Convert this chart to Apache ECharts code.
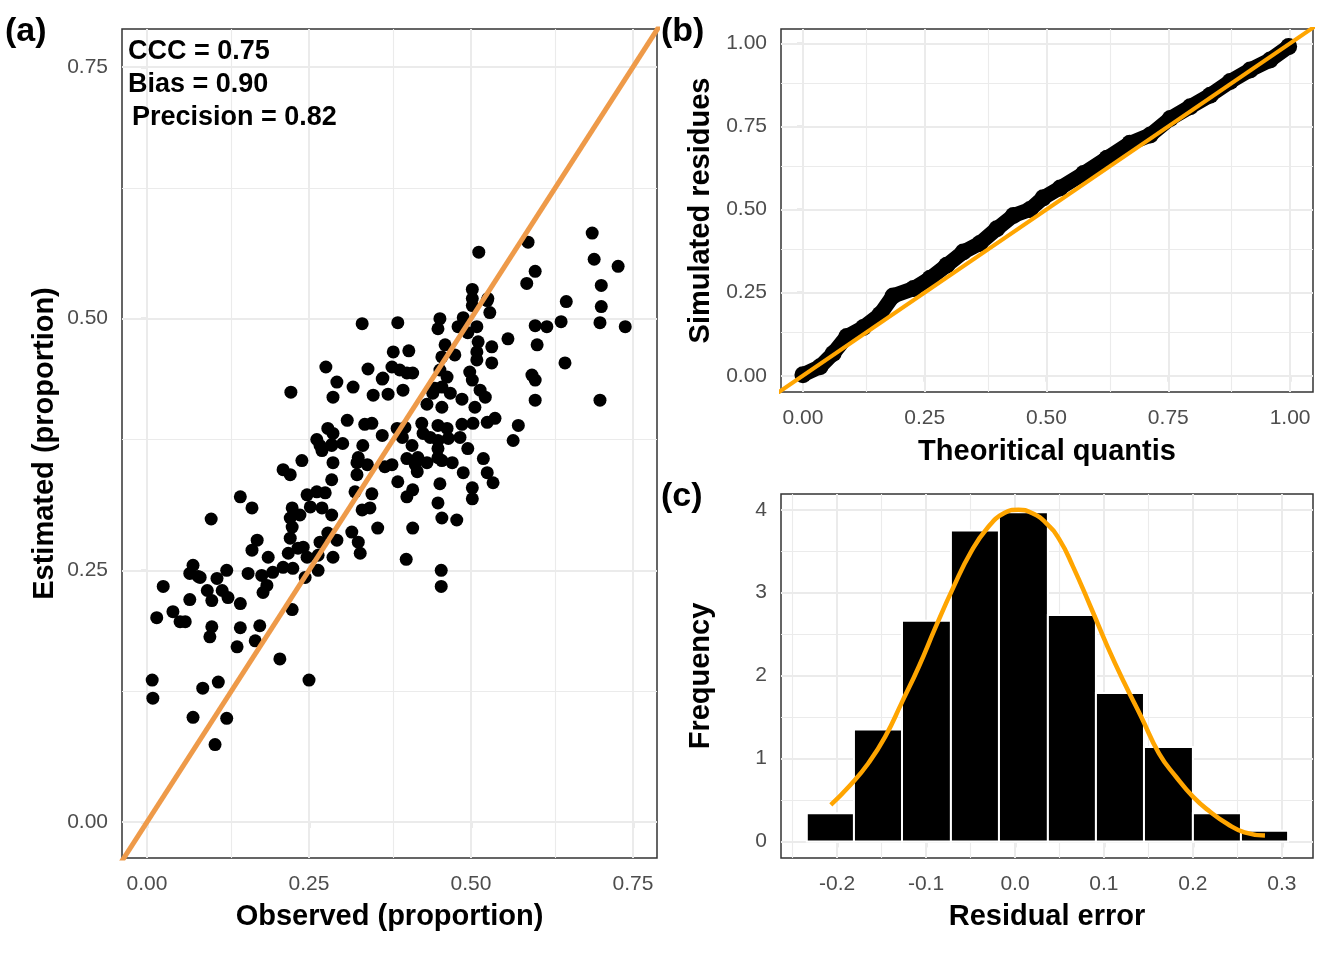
<!DOCTYPE html>
<html>
<head>
<meta charset="utf-8">
<script src="https://cdn.jsdelivr.net/npm/echarts@6/dist/echarts.min.js"></script>
<style>
  html, body { margin: 0; padding: 0; background: #fff; }
  #main { width: 1344px; height: 960px; }
</style>
</head>
<body>
<div id="main"></div>
<script>
// (a) observed vs estimated proportions
var observed = [
  0.267, 0.285, 0.270, 0.239, 0.287, 0.210, 0.221, 0.285, 0.144, 0.247,
  0.262, 0.275, 0.162, 0.224, 0.252, 0.270, 0.285, 0.236, 0.221, 0.099,
  0.224, 0.221, 0.170, 0.162, 0.267, 0.293, 0.233, 0.241, 0.218, 0.187,
  0.247, 0.287, 0.264, 0.071, 0.066, 0.079, 0.123, 0.156, 0.177, 0.194,
  0.210, 0.225, 0.264, 0.244, 0.025, 0.108, 0.093, 0.116, 0.185, 0.179,
  0.066, 0.100, 0.125, 0.144, 0.040, 0.015, 0.051, 0.059, 0.224, 0.100,
  0.144, 0.174, 0.097, 0.167, 0.139, 0.205, 0.008, 0.009, 0.086, 0.110,
  0.250, 0.071, 0.123, 0.105, 0.332, 0.387, 0.380, 0.404, 0.276, 0.341,
  0.378, 0.390, 0.410, 0.363, 0.293, 0.318, 0.222, 0.287, 0.349, 0.372,
  0.395, 0.309, 0.336, 0.347, 0.279, 0.287, 0.262, 0.285, 0.302, 0.333,
  0.363, 0.386, 0.398, 0.394, 0.409, 0.326, 0.324, 0.340, 0.367, 0.378,
  0.401, 0.414, 0.324, 0.387, 0.321, 0.347, 0.332, 0.344, 0.410, 0.401,
  0.356, 0.316, 0.279, 0.326, 0.329, 0.410, 0.400, 0.082, 0.452, 0.449,
  0.488, 0.483, 0.502, 0.525, 0.529, 0.509, 0.495, 0.511, 0.557, 0.532,
  0.599, 0.602, 0.460, 0.475, 0.455, 0.509, 0.509, 0.532, 0.401, 0.364,
  0.452, 0.463, 0.498, 0.502, 0.594, 0.599, 0.444, 0.455, 0.468, 0.441,
  0.514, 0.522, 0.486, 0.599, 0.432, 0.455, 0.506, 0.503, 0.525, 0.537,
  0.424, 0.449, 0.463, 0.486, 0.573, 0.565, 0.426, 0.437, 0.449, 0.465,
  0.483, 0.449, 0.495, 0.418, 0.432, 0.449, 0.455, 0.471, 0.519, 0.417,
  0.488, 0.525, 0.534, 0.452, 0.502, 0.502, 0.449, 0.455, 0.478, 0.454,
  0.454, 0.687, 0.588, 0.512, 0.690, 0.727, 0.599, 0.586, 0.701, 0.502,
  0.502, 0.526, 0.647, 0.701, 0.617, 0.639, 0.699, 0.738, 0.480, 0.645,
  0.699
];
var estimated = [
  0.374, 0.374, 0.369, 0.359, 0.357, 0.350, 0.345, 0.340, 0.323, 0.325,
  0.328, 0.327, 0.312, 0.312, 0.313, 0.312, 0.305, 0.305, 0.302, 0.301,
  0.293, 0.282, 0.280, 0.270, 0.278, 0.280, 0.272, 0.273, 0.267, 0.263,
  0.263, 0.263, 0.265, 0.255, 0.247, 0.244, 0.250, 0.247, 0.245, 0.248,
  0.253, 0.252, 0.250, 0.243, 0.234, 0.242, 0.230, 0.230, 0.235, 0.228,
  0.221, 0.220, 0.223, 0.217, 0.209, 0.203, 0.199, 0.199, 0.211, 0.194,
  0.193, 0.195, 0.184, 0.180, 0.174, 0.162, 0.141, 0.123, 0.133, 0.139,
  0.141, 0.104, 0.103, 0.077, 0.495, 0.496, 0.467, 0.468, 0.452, 0.450,
  0.452, 0.449, 0.446, 0.440, 0.437, 0.432, 0.427, 0.422, 0.424, 0.425,
  0.429, 0.399, 0.395, 0.396, 0.391, 0.386, 0.380, 0.375, 0.376, 0.374,
  0.384, 0.391, 0.392, 0.382, 0.374, 0.362, 0.357, 0.355, 0.353, 0.355,
  0.361, 0.355, 0.345, 0.338, 0.328, 0.326, 0.310, 0.312, 0.330, 0.323,
  0.292, 0.288, 0.287, 0.278, 0.267, 0.292, 0.261, 0.243, 0.500, 0.490,
  0.501, 0.492, 0.513, 0.518, 0.506, 0.492, 0.486, 0.477, 0.480, 0.472,
  0.493, 0.474, 0.474, 0.464, 0.462, 0.467, 0.459, 0.456, 0.446, 0.441,
  0.449, 0.442, 0.447, 0.439, 0.444, 0.439, 0.431, 0.432, 0.426, 0.426,
  0.429, 0.422, 0.420, 0.419, 0.415, 0.412, 0.412, 0.396, 0.397, 0.401,
  0.396, 0.394, 0.391, 0.395, 0.394, 0.379, 0.386, 0.382, 0.379, 0.381,
  0.382, 0.371, 0.371, 0.362, 0.357, 0.362, 0.359, 0.357, 0.361, 0.348,
  0.347, 0.347, 0.337, 0.336, 0.332, 0.321, 0.317, 0.302, 0.300, 0.250,
  0.234, 0.585, 0.576, 0.566, 0.559, 0.552, 0.547, 0.535, 0.533, 0.529,
  0.520, 0.520, 0.517, 0.512, 0.492, 0.497, 0.496, 0.492, 0.492, 0.456,
  0.419
];
var identityLine = [-0.1, 1.2];   // y = x reference

// (b) QQ plot of simulated residuals
var theoQuantile = [
  0.000, 0.035, 0.062, 0.090, 0.124, 0.158, 0.185, 0.227, 0.261, 0.295,
  0.329, 0.363, 0.398, 0.432, 0.466, 0.493, 0.528, 0.576, 0.624, 0.671,
  0.713, 0.754, 0.795, 0.836, 0.877, 0.918, 0.959, 0.997
];
var simResidue = [
  0.003, 0.027, 0.067, 0.118, 0.145, 0.184, 0.240, 0.262, 0.293, 0.332,
  0.372, 0.398, 0.442, 0.482, 0.500, 0.535, 0.565, 0.608, 0.654, 0.699,
  0.724, 0.774, 0.809, 0.844, 0.885, 0.920, 0.950, 0.990
];

// (c) histogram of residual error + density curve
var binEdges = [-0.234, -0.181, -0.127, -0.072, -0.018, 0.037, 0.091, 0.145, 0.200, 0.254, 0.307];
var binFreq = [0.34, 1.35, 2.66, 3.75, 3.97, 2.73, 1.79, 1.14, 0.34, 0.13];
var densX = [
  -0.207, -0.185, -0.165, -0.146, -0.127, -0.108, -0.089, -0.069, -0.050, -0.031,
  -0.012, 0.004, 0.019, 0.035, 0.050, 0.065, 0.085, 0.104, 0.123, 0.142,
  0.162, 0.181, 0.200, 0.219, 0.239, 0.258, 0.281
];
var densY = [
  0.44, 0.68, 0.94, 1.26, 1.68, 2.11, 2.59, 3.07, 3.48, 3.78,
  3.96, 4.00, 3.96, 3.84, 3.64, 3.32, 2.83, 2.35, 1.91, 1.50,
  1.06, 0.78, 0.54, 0.36, 0.21, 0.11, 0.07
];

// tick values
var ticksA = [0, 0.25, 0.5, 0.75];
var minorA = [0.125, 0.375, 0.625];
var ticksB = [0, 0.25, 0.5, 0.75, 1];
var minorB = [0.125, 0.375, 0.625, 0.875];
var ticksCx = [-0.2, -0.1, 0, 0.1, 0.2, 0.3];
var minorCx = [-0.25, -0.15, -0.05, 0.05, 0.15, 0.25];
var ticksCy = [0, 1, 2, 3, 4];
var minorCy = [0.5, 1.5, 2.5, 3.5];

var FONT = '"Liberation Sans", Arial, sans-serif';

function zip(a, b) {
    var out = [];
    for (var i = 0; i < a.length; i++) out.push([a[i], b[i]]);
    return out;
}

function gridLines(xMajor, xMinor, yMajor, yMinor) {
    var data = [];
    xMinor.forEach(function (v) { data.push({ xAxis: v, lineStyle: { color: '#ebebeb', width: 1.1, type: 'solid' } }); });
    yMinor.forEach(function (v) { data.push({ yAxis: v, lineStyle: { color: '#ebebeb', width: 1.1, type: 'solid' } }); });
    xMajor.forEach(function (v) { data.push({ xAxis: v, lineStyle: { color: '#ebebeb', width: 2, type: 'solid' } }); });
    yMajor.forEach(function (v) { data.push({ yAxis: v, lineStyle: { color: '#ebebeb', width: 2, type: 'solid' } }); });
    return {
        silent: true, symbol: 'none', z: 1, animation: false,
        label: { show: false }, emphasis: { disabled: true },
        data: data
    };
}

function makeAxis(gridIndex, min, max, ticks, fmt, name, gap, isY) {
    return {
        type: 'value', gridIndex: gridIndex, min: min, max: max,
        name: name, nameLocation: 'middle', nameGap: gap,
        nameTextStyle: { fontFamily: FONT, fontSize: 29, fontWeight: 'bold', color: '#000' },
        axisLine: { show: false },
        axisTick: { show: true, length: 6, customValues: ticks, lineStyle: { color: '#333', width: 1.2 } },
        axisLabel: {
            show: true, customValues: ticks, margin: isY ? 14 : 16,
            fontFamily: FONT, fontSize: 21, color: '#4d4d4d',
            formatter: fmt
        },
        splitLine: { show: false }
    };
}

function fix(n) { return function (v) { return Number(v).toFixed(n); }; }

var chart = echarts.init(document.getElementById('main'), null, { renderer: 'canvas' });

var gridStyle = { show: true, borderColor: '#333', borderWidth: 1.5, backgroundColor: 'transparent', containLabel: false };

function label(text, x, y, size) {
    return { type: 'text', left: x, top: y, z: 20, style: { text: text, font: 'bold ' + size + 'px ' + FONT, fill: '#000' } };
}

var option = {
    animation: false,
    backgroundColor: '#fff',
    grid: [
        Object.assign({ left: 122, top: 29, width: 535, height: 829 }, gridStyle),
        Object.assign({ left: 781, top: 29, width: 532, height: 363 }, gridStyle),
        Object.assign({ left: 781, top: 494, width: 532, height: 364 }, gridStyle)
    ],
    xAxis: [
        makeAxis(0, -0.0386, 0.787, ticksA, fix(2), 'Observed (proportion)', 44, false),
        makeAxis(1, -0.045, 1.047, ticksB, fix(2), 'Theoritical quantis', 45, false),
        makeAxis(2, -0.263, 0.335, ticksCx, fix(1), 'Residual error', 44, false)
    ],
    yAxis: [
        makeAxis(0, -0.0357, 0.7877, ticksA, fix(2), 'Estimated (proportion)', 63, true),
        makeAxis(1, -0.049, 1.043, ticksB, fix(2), 'Simulated residues', 66, true),
        makeAxis(2, -0.2, 4.19, ticksCy, fix(0), 'Frequency', 66, true)
    ],
    series: [
        {
            type: 'scatter', xAxisIndex: 0, yAxisIndex: 0, z: 2,
            data: zip(observed, estimated),
            symbol: 'circle', symbolSize: 13,
            itemStyle: { color: '#000', opacity: 1 },
            markLine: gridLines(ticksA, minorA, ticksA, minorA)
        },
        {
            type: 'line', xAxisIndex: 0, yAxisIndex: 0, z: 3,
            data: zip(identityLine, identityLine),
            showSymbol: false, clip: true,
            lineStyle: { color: '#EE9A49', width: 5 }
        },
        {
            type: 'line', xAxisIndex: 1, yAxisIndex: 1, z: 2,
            data: zip(theoQuantile, simResidue),
            symbol: 'circle', symbolSize: 17, showSymbol: true,
            itemStyle: { color: '#000', opacity: 1 },
            lineStyle: { color: '#000', width: 15, cap: 'round', join: 'round' },
            markLine: gridLines(ticksB, minorB, ticksB, minorB)
        },
        {
            type: 'line', xAxisIndex: 1, yAxisIndex: 1, z: 3,
            data: zip(identityLine, identityLine),
            showSymbol: false, clip: true,
            lineStyle: { color: '#FFA500', width: 4 }
        },
        {
            type: 'custom', xAxisIndex: 2, yAxisIndex: 2, z: 2,
            data: binFreq.map(function (f, i) { return [binEdges[i], binEdges[i + 1], f]; }),
            encode: { x: [0, 1], y: 2 },
            renderItem: function (params, api) {
                var p0 = api.coord([api.value(0), api.value(2)]);
                var p1 = api.coord([api.value(1), 0]);
                return {
                    type: 'rect',
                    shape: { x: p0[0], y: p0[1], width: p1[0] - p0[0], height: p1[1] - p0[1] },
                    style: { fill: '#000', stroke: '#fff', lineWidth: 2 }
                };
            },
            markLine: gridLines(ticksCx, minorCx, ticksCy, minorCy)
        },
        {
            type: 'line', xAxisIndex: 2, yAxisIndex: 2, z: 3,
            data: zip(densX, densY),
            smooth: true, showSymbol: false,
            lineStyle: { color: '#FFA500', width: 4.5 }
        }
    ],
    graphic: [
        label('(a)', 5, 15, 34),
        label('(b)', 661, 15, 34),
        label('(c)', 661, 480, 34),
        label('CCC = 0.75', 128, 38, 27),
        label('Bias = 0.90', 128, 71, 27),
        label('Precision = 0.82', 132, 104, 27)
    ]
};

chart.setOption(option);
</script>
</body>
</html>
